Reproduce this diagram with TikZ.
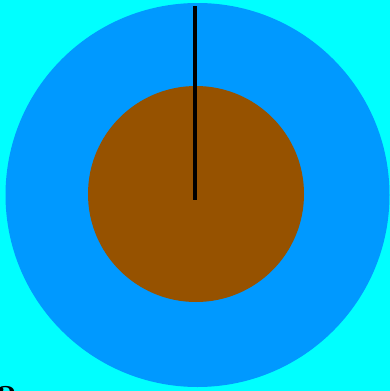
\documentclass[tikz,border=0pt]{standalone}
\definecolor{bgcyan}{RGB}{0,255,255}
\definecolor{outerblue}{RGB}{0,153,255}
\definecolor{core}{RGB}{150,82,0}
\begin{document}
\begin{tikzpicture}[x=1pt,y=-1pt,
  disc/.style={draw=none},
  rod/.style={line width=4.5pt,black}]
\useasboundingbox (0,0) rectangle (390,391);
\fill[bgcyan] (0,0) rectangle (390,391);
\fill[outerblue] (197.5,195) circle (192);
\fill[core] (196,194) circle (108);
\coordinate (top) at (195,6);
\coordinate (centre) at (195,200);
\draw[rod] (top) -- (centre);
\node[anchor=base west,inner sep=0pt,font=\fontsize{40}{44}\selectfont\bfseries] (lbl) at (-4,404) {a};
\end{tikzpicture}
\end{document}
